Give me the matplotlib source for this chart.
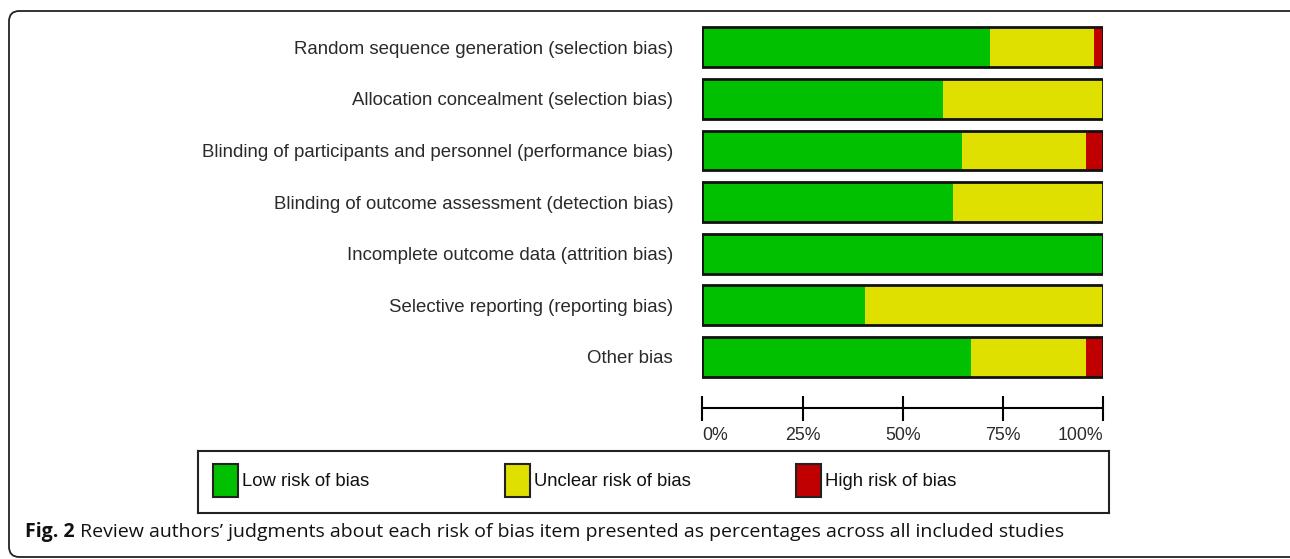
import matplotlib
matplotlib.use("Agg")
import matplotlib.pyplot as plt
from matplotlib.patches import Rectangle, FancyBboxPatch

# risk of bias items, top to bottom
items = ["Random sequence generation (selection bias)",
         "Allocation concealment (selection bias)",
         "Blinding of participants and personnel (performance bias)",
         "Blinding of outcome assessment (detection bias)",
         "Incomplete outcome data (attrition bias)",
         "Selective reporting (reporting bias)",
         "Other bias"]
# percentages
low = [71.7, 60.0, 64.8, 62.5, 100.0, 40.5, 67.0]
unclear = [26.1, 40.0, 30.9, 37.5, 0.0, 59.5, 28.7]
high = [2.2, 0.0, 4.3, 0.0, 0.0, 0.0, 4.3]

ticks = [0, 25, 50, 75, 100]
tick_labels = ["0%", "25%", "50%", "75%", "100%"]
legend_labels = ["Low risk of bias", "Unclear risk of bias", "High risk of bias"]
colors = ["#00c000", "#e0e000", "#c00000"]

caption_bold = "Fig. 2"
caption = " Review authors\u2019 judgments about each risk of bias item presented as percentages across all included studies"

W, H = 1290, 559
fig = plt.figure(figsize=(W / 100, H / 100), dpi=100)

def px(x0, y0, x1, y1):
    # pixel box (top-left origin) -> figure fraction rect
    return [x0 / W, 1 - y1 / H, (x1 - x0) / W, (y1 - y0) / H]

lab_font = ["Liberation Sans", "DejaVu Sans"]

# outer frame
frame = FancyBboxPatch((9 / W, 1 - 557 / H), 1.2, (557 - 11) / H,
                       boxstyle="round,pad=0,rounding_size=0.008",
                       transform=fig.transFigure, fill=False,
                       edgecolor="#222222", linewidth=1.3,
                       mutation_aspect=W / H)
fig.patches.append(frame)

ax = fig.add_axes(px(702.3, 21.5, 1103.3, 382.7))
y = list(range(len(items)))
left2 = [a + b for a, b in zip(low, unclear)]
for vals, lefts, c in [(low, [0] * len(items), colors[0]),
                       (unclear, low, colors[1]),
                       (high, left2, colors[2])]:
    ax.barh(y, vals, left=lefts, height=0.775, color=c, edgecolor="none")
# black outline around each full bar
ax.barh(y, [l + u + h for l, u, h in zip(low, unclear, high)], height=0.775,
        fill=False, edgecolor="#111111", linewidth=2)

ax.set_xlim(0, 100)
ax.set_ylim(len(items) - 0.5, -0.5)
ax.set_yticks(y)
ax.set_yticklabels(items, family=lab_font, fontsize=13.4, color="#2a2a2a")
ax.tick_params(axis="y", length=0, pad=21)

for s in ["top", "right", "left"]:
    ax.spines[s].set_visible(False)
ax.spines["bottom"].set_position(("outward", 18))
ax.spines["bottom"].set_linewidth(1.5)
ax.set_xticks(ticks)
ax.set_xticklabels(tick_labels, family=lab_font, fontsize=12.8, color="#2a2a2a")
ax.tick_params(axis="x", direction="inout", length=18, width=1.5, pad=5)
xl = ax.get_xticklabels()
xl[0].set_ha("left")
xl[-1].set_ha("right")

# legend box
lax = fig.add_axes(px(198, 451, 1109, 513))
lax.set_xlim(0, 911)
lax.set_ylim(62, 0)
lax.set_xticks([])
lax.set_yticks([])
for s in lax.spines.values():
    s.set_linewidth(1.5)
    s.set_edgecolor("#222222")
for i, (lab, c) in enumerate(zip(legend_labels, colors)):
    x0 = 15 + i * 291.5
    lax.add_patch(Rectangle((x0, 13), 25, 33, facecolor=c,
                            edgecolor="#222222", linewidth=1.5))
    lax.text(x0 + 29, 31, lab, family=lab_font, fontsize=13.3,
             color="#111111", va="center", ha="left")

# caption
t1 = fig.text(25 / W, 1 - 537 / H, caption_bold, family="Open Sans",
              fontweight="bold", fontsize=14, color="#111111", va="baseline")
fig.canvas.draw()
bb = t1.get_window_extent()
fig.text(bb.x1 / W, 1 - 537 / H, caption, family="Open Sans",
         fontsize=14, color="#111111", va="baseline")

fig.savefig("out.png", dpi=100)
